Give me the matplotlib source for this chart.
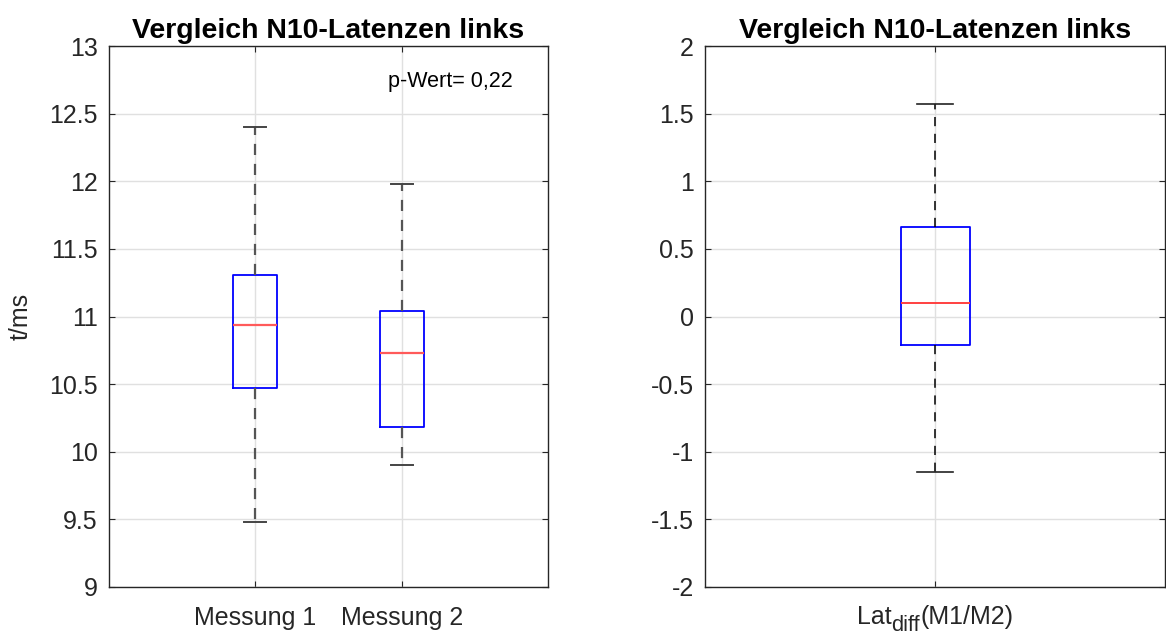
import matplotlib
matplotlib.use("Agg")
import matplotlib.pyplot as plt
from matplotlib.transforms import IdentityTransform

plt.rcParams['font.family'] = ['Liberation Sans', 'DejaVu Sans']

# Latenzen N10 links, Messung 1 und 2 (in ms)
labels_left = ['Messung 1', 'Messung 2']
whislo_left = [9.48, 9.90]
q1_left = [10.47, 10.18]
med_left = [10.94, 10.73]
q3_left = [11.31, 11.04]
whishi_left = [12.40, 11.98]
p_text = 'p-Wert= 0,22'

# Differenz M1 - M2
label_right = ('Lat', 'diff', '(M1/M2)')
whislo_right = [-1.15]
q1_right = [-0.21]
med_right = [0.10]
q3_right = [0.66]
whishi_right = [1.57]

title = 'Vergleich N10-Latenzen links'
txt = '#262626'
fs = 18


def make_stats(lo, q1, med, q3, hi):
    return [dict(whislo=a, q1=b, med=c, q3=d, whishi=e, fliers=[])
            for a, b, c, d, e in zip(lo, q1, med, q3, hi)]


def style_axes(ax):
    ax.grid(True, color='#e0e0e0', linewidth=1.0)
    ax.set_axisbelow(True)
    ax.tick_params(direction='in', top=True, right=True, length=4,
                   labelsize=fs, colors=txt, pad=8)
    ax.tick_params(axis='x', pad=14)
    for s in ax.spines.values():
        s.set_color(txt)
        s.set_linewidth(1.0)
    ax.set_title(title, fontsize=20.5, fontweight='bold', pad=6)


fig = plt.figure(figsize=(11.66, 6.36), dpi=100)

# links: beide Messungen
ax1 = fig.add_axes([109 / 1166, 49 / 636, 439 / 1166, 541 / 636])
ax1.bxp(make_stats(whislo_left, q1_left, med_left, q3_left, whishi_left),
        positions=[1, 2], widths=0.3, showfliers=False,
        boxprops=dict(color='blue', linewidth=1.3),
        medianprops=dict(color='#ff5a5a', linewidth=1.6),
        whiskerprops=dict(color='#555555', linewidth=1.6, linestyle=(0, (5, 4))),
        capprops=dict(color='#444444', linewidth=1.4),
        capwidths=0.15)
ax1.set_xlim(0, 3)
ax1.set_ylim(9, 13)
ax1.set_xticks([1, 2])
ax1.set_xticklabels(labels_left)
ax1.set_yticks([9, 9.5, 10, 10.5, 11, 11.5, 12, 12.5, 13])
ax1.set_yticklabels(['9', '9.5', '10', '10.5', '11', '11.5', '12', '12.5', '13'])
ax1.set_ylabel('t/ms', fontsize=fs, color=txt, labelpad=12)
style_axes(ax1)
ax1.text(1.907, 12.70, p_text, fontsize=15.5, color='black', va='baseline')

# rechts: Differenz
ax2 = fig.add_axes([705 / 1166, 49 / 636, 460 / 1166, 541 / 636])
ax2.bxp(make_stats(whislo_right, q1_right, med_right, q3_right, whishi_right),
        positions=[1], widths=0.3, showfliers=False,
        boxprops=dict(color='blue', linewidth=1.3),
        medianprops=dict(color='#ff4040', linewidth=1.4),
        whiskerprops=dict(color='black', linewidth=1.1, linestyle=(0, (6, 5))),
        capprops=dict(color='#222222', linewidth=1.2),
        capwidths=0.155)
ax2.set_xlim(0, 2)
ax2.set_ylim(-2, 2)
ax2.set_xticks([1])
ax2.set_xticklabels([''])
ax2.set_yticks([-2, -1.5, -1, -0.5, 0, 0.5, 1, 1.5, 2])
ax2.set_yticklabels(['-2', '-1.5', '-1', '-0.5', '0', '0.5', '1', '1.5', '2'])
style_axes(ax2)

# x-Beschriftung mit Index "diff", zentriert unter x=1
fig.canvas.draw()
renderer = fig.canvas.get_renderer()
parts = [(label_right[0], fs, 0), (label_right[1], fs * 0.87, -7), (label_right[2], fs, 0)]
items = []
for s, size, dy in parts:
    t = fig.text(0, 0, s, fontsize=size, color=txt, transform=IdentityTransform(),
                 va='baseline', ha='left')
    items.append((t, t.get_window_extent(renderer).width, dy))
cx = ax2.transData.transform((1, 0))[0]
base = ax2.transAxes.transform((0, 0))[1] - 37
x = cx - sum(w for _, w, _ in items) / 2
for t, w, dy in items:
    t.set_position((x, base + dy))
    x += w

fig.savefig('out.png', dpi=100)
